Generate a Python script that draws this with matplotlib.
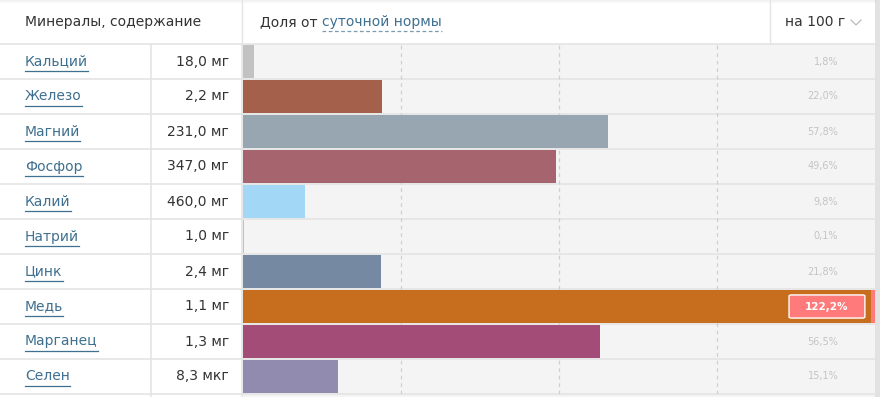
import matplotlib.pyplot as plt
from matplotlib.patches import FancyBboxPatch, Rectangle

# data
minerals = ['Кальций', 'Железо', 'Магний', 'Фосфор', 'Калий',
            'Натрий', 'Цинк', 'Медь', 'Марганец', 'Селен']
amounts = ['18,0 мг', '2,2 мг', '231,0 мг', '347,0 мг', '460,0 мг',
           '1,0 мг', '2,4 мг', '1,1 мг', '1,3 мг', '8,3 мкг']
percents = [1.8, 22.0, 57.8, 49.6, 9.8, 0.1, 21.8, 122.2, 56.5, 15.1]
colors = ['#c2c2c2', '#a5604c', '#97a6b0', '#a6646f', '#a3d7f6',
          '#c2c2c2', '#7689a3', '#c76d1e', '#a24c77', '#928bb0']

W, H = 880, 397
top, row_h = 44, 35
link = '#3f7090'
grid = '#e4e4e4'

plt.rcParams['font.family'] = ['DejaVu Sans']
fig = plt.figure(figsize=(W / 100, H / 100), dpi=100)
fig.patch.set_facecolor('white')

# background axes in pixel coordinates for the table part
bg = fig.add_axes([0, 0, 1, 1])
bg.set_xlim(0, W)
bg.set_ylim(H, 0)
bg.axis('off')

bx0, bx1 = 243, 875
bg.add_patch(Rectangle((bx0, top), bx1 - bx0, H - top, color='#f4f4f4', lw=0))
bg.add_patch(Rectangle((bx1, 0), W - bx1, H, color='#e2e2e2', lw=0))
bg.add_patch(Rectangle((0, 0), bx1, top, color='white', lw=0))
# faint shadow at the top of the header
for k in range(3):
    bg.plot([0, bx1], [k, k], color='#000000', alpha=0.015 * (3 - k), lw=1)

renderer = fig.canvas.get_renderer()


def underline(t, y, dashed=False):
    bb = t.get_window_extent(renderer)
    x0, x1 = bb.x0, bb.x1
    bg.plot([x0, x1], [y, y], color=link if not dashed else '#7a9cb2',
            lw=0.9, ls=(0, (3, 2)) if dashed else '-')


# header
bg.text(25, 22, 'Минералы, содержание', fontsize=10, color='#333333', va='center')
bg.text(260, 22, 'Доля от ', fontsize=10, color='#333333', va='center')
t = bg.text(322, 22, 'суточной нормы', fontsize=10, color=link, va='center')
underline(t, 31, dashed=True)
bg.text(785, 22, 'на 100 г', fontsize=10, color='#333333', va='center')
bg.plot([851, 856, 861], [20, 25, 20], color='#bbbbbb', lw=0.9)
bg.plot([242, 242], [0, top], color=grid, lw=1)
bg.plot([770, 770], [0, top], color=grid, lw=1)
bg.plot([0, bx1], [top, top], color=grid, lw=1.2)

# rows
for i, (name, amt) in enumerate(zip(minerals, amounts)):
    yc = top + row_h * (i + 0.5)
    t = bg.text(25, yc, name, fontsize=10, color=link, va='center')
    underline(t, yc + 9)
    bg.text(229, yc, amt, fontsize=10, color='#333333', va='center', ha='right')
    bg.plot([0, bx1], [top + row_h * (i + 1)] * 2, color=grid, lw=1.2)
bg.plot([151, 151], [top, H], color=grid, lw=1.2)
bg.plot([242, 242], [top, H], color=grid, lw=1.2)

# bar axes
ax = fig.add_axes([bx0 / W, (H - top - row_h * len(minerals)) / H,
                   (bx1 - bx0) / W, row_h * len(minerals) / H])
ax.set_xlim(0, 100)
ax.set_ylim(len(minerals), 0)
ax.axis('off')
ax.patch.set_alpha(0)
for xv in [25, 50, 75]:
    ax.axvline(xv, color='#cfcfcf', lw=0.9, ls=(0, (3, 3)), zorder=0)

ypos = [i + 0.5 for i in range(len(minerals))]
vals = [min(p, 100) for p in percents]
ax.barh(ypos, vals, height=0.95, color=colors, zorder=2)

for y, p in zip(ypos, percents):
    lab = f'{p:.1f}%'.replace('.', ',')
    if p > 100:
        ax.add_patch(FancyBboxPatch((86.4, y - 0.33), 12.0, 0.66,
                                    boxstyle='round,pad=0,rounding_size=0.4',
                                    fc='#ff7b7b', ec='white', lw=1.0, zorder=3,
                                    mutation_aspect=0.08))
        ax.text(92.4, y, lab, fontsize=7.5, color='white', fontweight='bold',
                ha='center', va='center', zorder=4)
        ax.barh(y, 0.8, left=99.3, height=0.95, color='#ff7b7b', zorder=3)
    else:
        ax.text(94.2, y, lab, fontsize=7, color='#c4c4c4',
                ha='right', va='center', zorder=4)

fig.savefig('out.png', dpi=100)
